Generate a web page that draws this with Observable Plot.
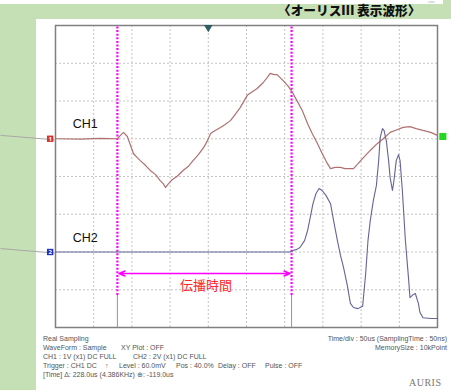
<!DOCTYPE html>
<html>
<head>
<meta charset="utf-8">
<script src="https://cdn.jsdelivr.net/npm/d3@7"></script>
<script src="https://cdn.jsdelivr.net/npm/@observablehq/plot@0.6"></script>
<style>
  html, body { margin: 0; padding: 0; }
  body { width: 451px; height: 390px; overflow: hidden; position: relative; background: #c5e0b4; font-family: "Liberation Sans", Arial, sans-serif; }
  .abs { position: absolute; white-space: nowrap; }
  #topstrip { left: 0; top: 0; width: 443px; height: 4px; background: #fff; }
  #panel { left: 36px; top: 19px; width: 415px; height: 371px; background: #fff; }
  #title { left: 278px; top: 2px; font-family: "Noto Sans CJK JP", sans-serif; font-weight: 900; font-size: 12.7px; line-height: 16px; color: #111; letter-spacing: 0px; }
  .ft { font-size: 7px; line-height: 8px; color: #555; }
  #auris { left: 409px; top: 377px; font-family: "Liberation Serif", serif; font-size: 10px; line-height: 12px; color: #777; letter-spacing: 0.5px; }
  #cut { left: 428px; top: 0px; font-family: "Liberation Serif", serif; font-size: 4px; line-height: 4px; color: #aaa; }
  #chart { position: absolute; left: 0; top: 0; }
</style>
</head>
<body>
<div class="abs" id="topstrip"></div>
<div class="abs" id="cut">ems</div>
<div class="abs" id="title">〈オーリスⅢ 表示波形〉</div>
<div class="abs" id="panel"></div>
<div id="footer"></div>
<div class="abs" id="auris">AURIS</div>
<div id="chart"></div>
<script>
// ---- data (time in µs, amplitude in divisions from the bottom of the screen) ----
const ch1Time = [-200,-167,-141,-119,-115,-111,-106,-98,-93,-89,-82,-76,-69,-63,-59,-56,-52,-47,-41,-33,-26,-20,-13,-6,-1,3,9,16,22,29,35,42,47,51,58,64,72,77,81,86,90,98,105,110,116,123,130,136,143,149,156,160,166,173,179,190,196,203,212,221,229,238,247,255,264,272,281,291,300];
const ch1Div  = [5.0,4.99,5.01,5.0,5.09,5.17,5.06,4.61,4.50,4.42,4.29,4.16,4.05,3.89,3.81,3.71,3.81,3.92,4.0,4.16,4.27,4.42,4.58,4.77,4.95,5.14,5.22,5.30,5.38,5.48,5.64,5.83,6.01,6.15,6.25,6.33,6.49,6.62,6.73,6.70,6.70,6.54,6.38,6.23,6.01,5.75,5.40,5.14,4.87,4.61,4.34,4.21,4.24,4.24,4.21,4.21,4.34,4.50,4.69,4.87,5.0,5.17,5.24,5.30,5.32,5.27,5.22,5.17,5.09];
const ch2Time = [-200,-100,0,107,111,116,120,126,130,134,137,141,145,149,154,160,164,169,173,177,182,186,190,196,202,206,209,212,216,220,223,225,228,230,233,236,238,241,243,246,249,251,254,258,262,264,268,271,275,277,281,291,300];
const ch2Div  = [2.0,2.0,2.0,2.0,2.04,2.07,2.12,2.30,2.57,2.97,3.28,3.55,3.68,3.63,3.50,3.28,2.83,2.30,1.91,1.59,1.11,0.64,0.53,0.50,0.56,1.43,2.30,2.83,3.36,3.76,4.42,5.03,5.27,5.22,4.95,4.42,3.97,3.63,3.89,4.42,4.58,4.42,3.63,2.30,1.32,0.79,0.87,0.90,0.64,0.40,0.26,0.24,0.24];
const gridTimes = [-150,-100,-50,0,50,100,150,200,250];
const gridDivs = [1,2,3,4,5,6,7];
const cursorTimes = [-119, 109];
const channelNames = ["CH1", "CH2"];
const channelLevels = [5.0, 2.0];
const delayLabel = "伝播時間";

const footerLeft = [
  [["Real Sampling", 43]],
  [["WaveForm : Sample", 43], ["XY Plot : OFF", 121]],
  [["CH1 : 1V (x1)  DC  FULL", 43], ["CH2 : 2V (x1)  DC  FULL", 133]],
  [["Trigger : CH1 DC", 43], ["↑", 105], ["Level : 60.0mV", 119], ["Pos : 40.0%", 176], ["Delay : OFF", 218], ["Pulse : OFF", 265]],
  [["[Time]  Δ: 228.0us (4.386KHz)  ⊕: -119.0us", 43]]
];
const footerRight = ["Time/div : 50us (SamplingTime : 50ns)", "MemorySize : 10kPoint"];
const footerTops = [335, 344, 353, 362, 371];

// ---- footer text ----
const footer = document.getElementById("footer");
footerLeft.forEach((line, i) => line.forEach(([txt, x]) => {
  const s = document.createElement("div");
  s.className = "abs ft"; s.textContent = txt;
  s.style.left = x + "px"; s.style.top = footerTops[i] + "px";
  footer.appendChild(s);
}));
footerRight.forEach((txt, i) => {
  const s = document.createElement("div");
  s.className = "abs ft"; s.textContent = txt;
  s.style.right = "4px"; s.style.top = footerTops[i] + "px";
  footer.appendChild(s);
});

// ---- chart ----
const ch1 = ch1Time.map((t, i) => ({t, v: ch1Div[i]}));
const ch2 = ch2Time.map((t, i) => ({t, v: ch2Div[i]}));
const labels = channelNames.map((n, i) => ({n, t: -161, v: channelLevels[i] + (i === 0 ? 0.4 : 0.36)}));
const cursorBreak = 0.85;
const arrowLevel = 1.43;
const mid = (cursorTimes[0] + cursorTimes[1]) / 2;

const chart = Plot.plot({
  width: 451, height: 390,
  marginLeft: 55, marginRight: 14, marginTop: 25, marginBottom: 63,
  x: {domain: [-200, 300], axis: null},
  y: {domain: [0, 8], axis: null},
  style: {background: "transparent", overflow: "visible"},
  marks: [
    Plot.ruleX(gridTimes, {stroke: "#c4c4c4", strokeDasharray: "2,2", strokeWidth: 1}),
    Plot.ruleY(gridDivs, {stroke: "#c4c4c4", strokeDasharray: "2,2", strokeWidth: 1}),
    Plot.frame({stroke: "#808080", strokeWidth: 1.5}),
    // lead lines coming in from the page edge
    Plot.link(channelLevels, {x1: -272, x2: -200, y1: d => d + 0.09, y2: d => d - 0.03, stroke: "#a8a8a8", strokeWidth: 1}),
    // cursors
    Plot.ruleX(cursorTimes, {y1: 0, y2: cursorBreak, stroke: "#b080b8", strokeWidth: 1}),
    Plot.ruleX(cursorTimes, {y1: cursorBreak, y2: 8, stroke: "#ff00ff", strokeWidth: 2.2, strokeDasharray: "2,1.6"}),
    // traces
    Plot.line(ch1, {x: "t", y: "v", stroke: "#b07070", strokeWidth: 1.2}),
    Plot.line(ch2, {x: "t", y: "v", stroke: "#64649a", strokeWidth: 1.1}),
    // propagation-time arrow
    Plot.arrow([cursorTimes[0], cursorTimes[1]], {x1: mid, x2: d => d + (d < 0 ? 2 : -2), y1: arrowLevel, y2: arrowLevel, stroke: "#ff00ff", strokeWidth: 1.4, headLength: 7, headAngle: 45}),
    Plot.text([delayLabel], {x: -3, y: 1.11, text: d => d, fill: "#ff2828", fontSize: 13, fontFamily: "Noto Sans CJK JP, sans-serif"}),
    // channel labels
    Plot.text(labels, {x: "t", y: "v", text: "n", fill: "#111", fontSize: 12.5, fontFamily: "Liberation Sans, Arial, sans-serif"}),
    // channel markers
    Plot.dot(channelLevels, {x: -207, y: d => d, symbol: "square", r: 3.6, fill: (d, i) => i === 0 ? "#d83030" : "#2030c0", stroke: "none"}),
    Plot.text(channelLevels, {x: -207, y: d => d, text: (d, i) => String(i + 1), fill: "white", fontSize: 6, fontWeight: "bold"}),
    Plot.dot([channelLevels[0]], {x: 307, y: d => d + 0.06, symbol: "square", r: 4, fill: "#22d822", stroke: "none"}),
    // trigger position marker
    Plot.dot([0], {x: d => d, y: 7.95, symbol: "triangle", rotate: 180, r: 3.2, fill: "#2f5c66", stroke: "none"})
  ]
});
document.getElementById("chart").appendChild(chart);
</script>
</body>
</html>
